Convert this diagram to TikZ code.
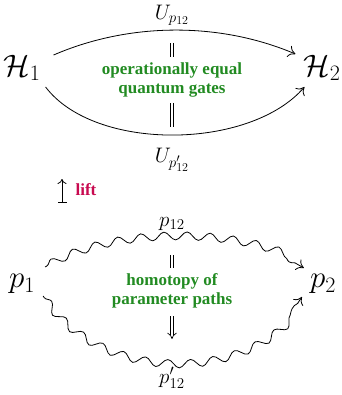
\RequirePackage{fix-cm}
\documentclass[tikz,border=0pt]{standalone}
\usepackage{fontspec}
\setmainfont{Liberation Serif}
\usetikzlibrary{arrows.meta,decorations.pathmorphing}
\DeclareMathSizes{31}{31}{22}{17}
\DeclareMathSizes{21}{21}{15}{12}
\definecolor{gatesgreen}{RGB}{34,139,34}
\definecolor{liftred}{RGB}{200,10,80}
\tikzset{
  obj/.style={inner sep=0pt,font=\fontsize{31}{34}\selectfont},
  lbl/.style={inner sep=0pt,font=\fontsize{21}{23}\selectfont},
  note/.style={inner sep=0pt,align=center,text=gatesgreen,font=\fontsize{17}{19.5}\selectfont\bfseries},
  arr/.style={line width=0.8pt,-{Computer Modern Rightarrow[length=7pt,width=12pt]}},
  squig/.style={line width=0.8pt,decorate,decoration={snake,amplitude=4pt,segment length=23pt,pre length=2pt,post length=7pt}},
  eqline/.style={line width=0.7pt,double=white,double distance=2.6pt},
}
\begin{document}
\begin{tikzpicture}[x=1pt,y=-1pt]
\useasboundingbox (0,0) rectangle (341,395);
% top
\node[obj] (h1) at (22,68) {$\mathcal{H}_1$};
\node[obj] (h2) at (322,68) {$\mathcal{H}_2$};
\node[lbl] (u1) at (172,15) {$U_{p_{12}}$};
\node[lbl] (u2) at (172,160) {$U_{p'_{12}}$};
\node[note] (gates) at (172,80) {operationally equal\\quantum gates};
\draw[arr] ([shift={(13,-13)}]h1.east) .. controls (130,22) and (220,22) .. ([shift={(-8,-14)}]h2.west);
\draw[arr] ([shift={(5,19)}]h1.east) .. controls (95,152) and (250,150) .. ([shift={(1,19)}]h2.west);
\coordinate (ea) at (172,43);
\coordinate (eb) at (172,57);
\coordinate (ec) at (172,103);
\coordinate (ed) at (172,127);
\draw[eqline] (ea) -- (eb);
\draw[eqline] (ec) -- (ed);
% lift
\coordinate (la) at (62,203);
\coordinate (lb) at (62,179);
\draw[line width=0.8pt,{Bar[width=9pt]}-{Computer Modern Rightarrow[length=5pt,width=9pt]}] (la) -- (lb);
\node[inner sep=0pt,text=liftred,font=\fontsize{17}{19}\selectfont\bfseries] (lift) at (86,190) {lift};
% bottom
\node[obj] (p1) at (22,284) {$p_1$};
\node[obj] (p2) at (323,284) {$p_2$};
\node[lbl] (q1) at (172,224) {$p_{12}$};
\node[lbl] (q2) at (172,378) {$p'_{12}$};
\node[note] (homo) at (172,291) {homotopy of\\parameter paths};
\draw[squig,arr] ([shift={(10,-17)}]p1.east) .. controls (110,229) and (240,229) .. ([shift={(-6,-16)}]p2.west);
\draw[squig,arr] ([shift={(8,12)}]p1.east) .. controls (100,380) and (250,380) .. ([shift={(-8,13)}]p2.west);
\coordinate (ha) at (172,255);
\coordinate (hb) at (172,268);
\coordinate (hc) at (172,316);
\coordinate (hd) at (172,339);
\draw[eqline] (ha) -- (hb);
\draw[eqline,-{Implies[length=6pt]}] (hc) -- (hd);
\end{tikzpicture}
\end{document}
